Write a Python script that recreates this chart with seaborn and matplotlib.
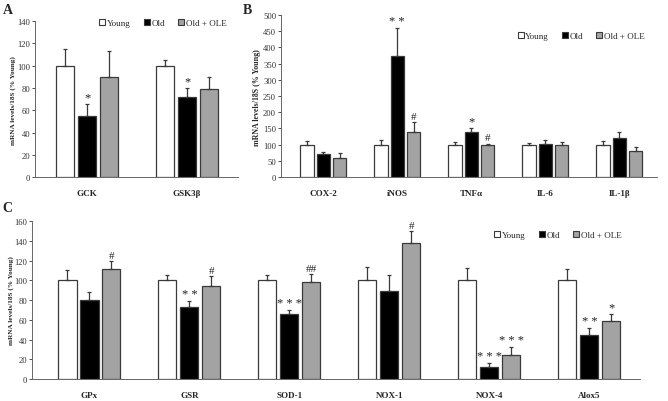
import matplotlib
matplotlib.use("Agg")
import matplotlib.pyplot as plt
import seaborn as sns
import pandas as pd
import numpy as np
from matplotlib.lines import Line2D

groups = ["Young", "Old", "Old + OLE"]

# panel A
genes_a = ["GCK", "GSK3\u03b2"]
young_a = [100, 100]
old_a = [55, 72]
ole_a = [90, 79]
young_a_err = [15, 5.5]
old_a_err = [10.5, 8]
ole_a_err = [23, 11]
marks_a = {"Old": ["*", "*"], "Old + OLE": ["", ""]}

# panel B
genes_b = ["COX-2", "iNOS", "TNF\u03b1", "IL-6", "IL-1\u03b2"]
young_b = [100, 100, 100, 100, 100]
old_b = [70, 375, 138, 101, 120]
ole_b = [58, 140, 98, 98, 80]
young_b_err = [10, 15, 8, 5, 10]
old_b_err = [8, 85, 12, 12, 20]
ole_b_err = [17, 30, 5, 9, 12]
marks_b = {"Old": ["", "* *", "*", "", ""], "Old + OLE": ["", "#", "#", "", ""]}

# panel C
genes_c = ["GPx", "GSR", "SOD-1", "NOX-1", "NOX-4", "Alox5"]
young_c = [100, 100, 100, 100, 100, 100]
old_c = [80, 73, 66, 89, 12, 45]
ole_c = [111, 94, 98, 138, 24, 59]
young_c_err = [10.5, 5.5, 5, 13.5, 12, 11]
old_c_err = [8, 6.5, 4, 16, 4.5, 7]
ole_c_err = [9, 10, 8.5, 12, 8, 6.5]
marks_c = {"Old": ["", "* *", "* * *", "", "* * *", "* *"],
           "Old + OLE": ["#", "#", "##", "#", "* * *", "*"]}

palette = {"Young": "white", "Old": "black", "Old + OLE": "#a3a3a3"}
edge = "#3a3a3a"

sns.set_style("white")
plt.rcParams["font.family"] = ["Liberation Serif", "DejaVu Serif"]

fig = plt.figure(figsize=(6.68, 4.02), dpi=100)
ax_a = fig.add_axes([0.0524, 0.557, 0.304, 0.388])
ax_b = fig.add_axes([0.4207, 0.557, 0.563, 0.403])
ax_c = fig.add_axes([0.0479, 0.0547, 0.910, 0.393])


def panel(ax, genes, vals, errs, marks, ymax, ystep, xlim, leg_xy, mark_off,
          ylab_x, ylab_size):
    df = pd.DataFrame({
        "gene": genes * 3,
        "group": np.repeat(groups, len(genes)),
        "value": vals[0] + vals[1] + vals[2],
    })
    sns.barplot(data=df, x="gene", y="value", hue="group", order=genes,
                hue_order=groups, palette=palette, width=0.66, gap=0.18,
                errorbar=None, edgecolor=edge, linewidth=0.9, ax=ax,
                legend=False)
    for cont, grp, err in zip(ax.containers, groups, errs):
        xs = [b.get_x() + b.get_width() / 2 for b in cont]
        hs = [b.get_height() for b in cont]
        ax.errorbar(xs, hs, yerr=[np.zeros(len(err)), err], fmt="none",
                    ecolor=edge, elinewidth=0.9, capsize=1.6, capthick=0.9)
        if grp in marks:
            for x, h, e, m in zip(xs, hs, err, marks[grp]):
                if m:
                    fs = 9 if m.startswith("*") else 8
                    ax.text(x, h + e + mark_off, m, ha="center", va="bottom",
                            fontsize=fs, color="#222222")
    ax.set_ylim(0, ymax)
    ax.set_yticks(np.arange(0, ymax + 1, ystep))
    ax.set_xlim(*xlim)
    ax.set_xlabel("")
    ax.set_ylabel("mRNA levels/18S (% Young)", fontsize=ylab_size,
                  fontweight="bold", va="center")
    ax.yaxis.set_label_coords(ylab_x, 0.5)
    ax.tick_params(axis="y", left=True, length=2, width=0.6, labelsize=6.2,
                   pad=1.5, colors="#333333")
    ax.tick_params(axis="x", bottom=False, labelsize=6.5, pad=5)
    for lab in ax.get_xticklabels():
        lab.set_fontweight("bold")
    for s in ["top", "right"]:
        ax.spines[s].set_visible(False)
    ax.spines["left"].set_color("#666666")
    ax.spines["bottom"].set_color("#666666")
    ax.spines["left"].set_linewidth(0.7)
    ax.spines["bottom"].set_linewidth(0.7)
    handles = [Line2D([], [], marker="s", linestyle="none", markersize=5,
                      markerfacecolor=palette[g], markeredgecolor=edge,
                      markeredgewidth=0.8, label=g) for g in groups]
    ax.legend(handles=handles, loc="center left", bbox_to_anchor=leg_xy,
              ncol=3, frameon=False, fontsize=6.5, handlelength=0.6,
              handletextpad=0.2, columnspacing=1.5, borderaxespad=0)


panel(ax_a, genes_a, [young_a, old_a, ole_a],
      [young_a_err, old_a_err, ole_a_err], marks_a, 140, 20,
      (-0.52, 1.51), (0.30, 0.99), 1, -0.108, 5.2)
panel(ax_b, genes_b, [young_b, old_b, ole_b],
      [young_b_err, old_b_err, ole_b_err], marks_b, 500, 50,
      (-0.57, 4.51), (0.62, 0.87), 4, -0.064, 5.7)
panel(ax_c, genes_c, [young_c, old_c, ole_c],
      [young_c_err, old_c_err, ole_c_err], marks_c, 160, 20,
      (-0.575, 5.505), (0.755, 0.91), 1, -0.0345, 5.2)

fig.text(0.004, 0.975, "A", fontsize=10, fontweight="bold", va="center")
fig.text(0.364, 0.975, "B", fontsize=10, fontweight="bold", va="center")
fig.text(0.004, 0.482, "C", fontsize=10, fontweight="bold", va="center")

fig.savefig("out.png", dpi=100)
